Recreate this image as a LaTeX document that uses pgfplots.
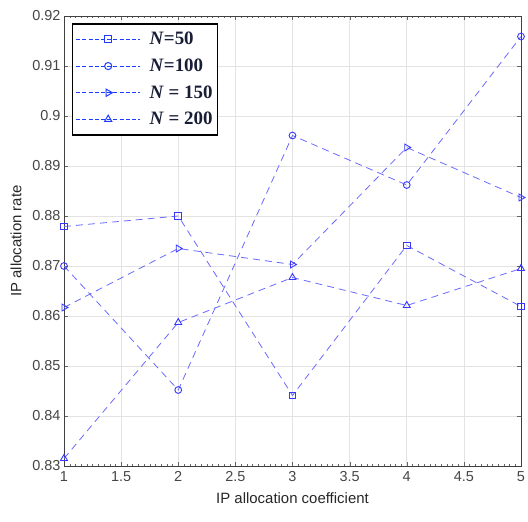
\documentclass[border=0pt]{standalone}
\usepackage{fontspec}
\setmainfont{Liberation Sans}
\newfontfamily\legfont{Liberation Serif}
\usepackage{pgfplots}
\pgfplotsset{compat=1.18}
\definecolor{lineblue}{RGB}{105,105,255}
\definecolor{markblue}{RGB}{55,55,255}
\definecolor{legblue}{RGB}{30,60,255}
\definecolor{tickgray}{RGB}{70,70,70}
\definecolor{legtext}{RGB}{25,30,55}
\begin{document}
\begin{tikzpicture}
\path[use as bounding box] (-64bp,-56bp) rectangle (464bp,466bp);
\begin{axis}[
  scale only axis, width=457bp, height=450bp,
  at={(0,0)}, anchor=south west,
  xmin=1, xmax=5, ymin=0.83, ymax=0.92,
  xtick={1,1.5,...,5}, ytick={0.83,0.84,...,0.92},
  xticklabels={1,1.5,2,2.5,3,3.5,4,4.5,5},
  yticklabels={0.83,0.84,0.85,0.86,0.87,0.88,0.89,0.9,0.91,0.92},
  tick align=inside, tick pos=both,
  major tick length=4bp,
  minor x tick num=9, minor tick length=1.5bp,
  grid=major, major grid style={gray!22, line width=0.6pt},
  axis line style={black!75, line width=0.7pt},
  tick style={black!60},
  ticklabel style={font=\fontsize{14.5}{16}\selectfont, text=tickgray},
  xticklabel style={yshift=-2bp},
  /pgf/number format/assume math mode=true,
  xlabel={IP allocation coefficient}, ylabel={IP allocation rate},
  label style={font=\fontsize{15}{17}\selectfont, text=black!85},
  xlabel style={yshift=-4bp},
  ylabel style={yshift=4bp},
  legend style={at={(0.0175,0.984)}, anchor=north west, draw=black, line width=1.3pt,
     font=\legfont\fontsize{19}{22}\selectfont\bfseries\color{legtext}, row sep=8.6bp,
     inner xsep=3bp, inner ysep=6.5bp,
     /tikz/every odd column/.append style={column sep=7bp}},
  legend cell align=left,
  legend image code/.code={\draw[mark repeat=2,mark phase=2, #1]
     plot coordinates {(0bp,0bp) (32bp,0bp) (64bp,0bp)};},
]
\pgfplotsset{myline/.style={color=lineblue, line width=0.8pt, dash pattern=on 7bp off 5bp,
     mark options={solid, draw=markblue, line width=0.9pt, fill=none}},
  legline/.style={draw=legblue, line width=1.1pt, dash pattern=on 4bp off 2.2bp}}
\addlegendimage{legline, mark=square, mark size=3.6pt, mark options={solid, draw=legblue, line width=1pt, fill=none}}
\addlegendentry{\textit{N}=50}
\addlegendimage{legline, mark=o, mark size=3.6pt, mark options={solid, draw=legblue, line width=1pt, fill=none}}
\addlegendentry{\textit{N}=100}
\addlegendimage{legline, mark=triangle, mark size=4.2pt, mark options={solid, draw=legblue, line width=1pt, fill=none, rotate=-90}}
\addlegendentry{\textit{N} = 150}
\addlegendimage{legline, mark=triangle, mark size=4.2pt, mark options={solid, draw=legblue, line width=1pt, fill=none}}
\addlegendentry{\textit{N} = 200}
\addplot[myline, mark=square, mark size=3.4pt, forget plot] coordinates {(1,0.8779) (2,0.8800) (3,0.8441) (4,0.8741) (5,0.8619)};
\addplot[myline, mark=o, mark size=3.4pt, forget plot] coordinates {(1,0.8700) (2,0.8452) (3,0.8961) (4,0.8862) (5,0.9159)};
\addplot[myline, mark=triangle, mark size=4pt, every mark/.append style={rotate=-90}, forget plot] coordinates {(1,0.8617) (2,0.8735) (3,0.8703) (4,0.8937) (5,0.8837)};
\addplot[myline, mark=triangle, mark size=4pt, forget plot] coordinates {(1,0.8315) (2,0.8587) (3,0.8677) (4,0.8621) (5,0.8695)};
\end{axis}
\end{tikzpicture}
\end{document}
